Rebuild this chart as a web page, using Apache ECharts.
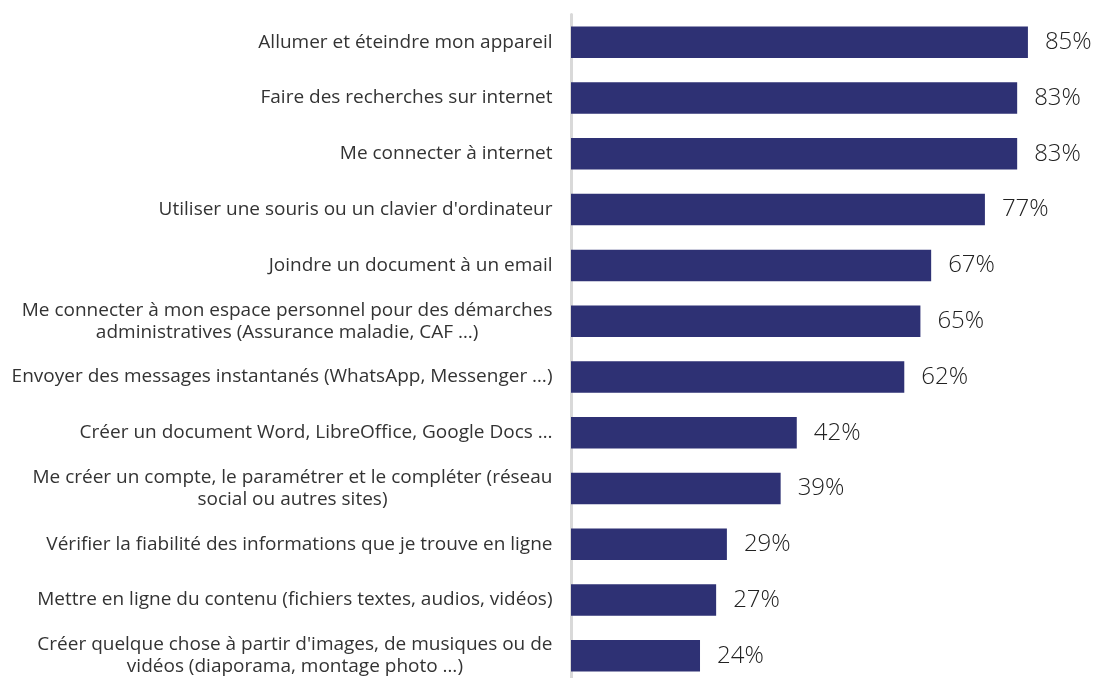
<!DOCTYPE html>
<html><head><meta charset="utf-8">
<script src="https://cdn.jsdelivr.net/npm/echarts@6/dist/echarts.min.js"></script>
<style>html,body{margin:0;padding:0;background:#fff}#c{width:1094px;height:678px}</style>
</head><body><div id="c"></div>
<script>
const categories = [
  "Allumer et éteindre mon appareil",
  "Faire des recherches sur internet",
  "Me connecter à internet",
  "Utiliser une souris ou un clavier d'ordinateur",
  "Joindre un document à un email",
  "Me connecter à mon espace personnel pour des démarches\nadministratives (Assurance maladie, CAF …)",
  "Envoyer des messages instantanés (WhatsApp, Messenger …)",
  "Créer un document Word, LibreOffice, Google Docs …",
  "Me créer un compte, le paramétrer et le compléter (réseau\nsocial ou autres sites)",
  "Vérifier la fiabilité des informations que je trouve en ligne",
  "Mettre en ligne du contenu (fichiers textes, audios, vidéos)",
  "Créer quelque chose à partir d'images, de musiques ou de\nvidéos (diaporama, montage photo …)"
];
const values = [85, 83, 83, 77, 67, 65, 62, 42, 39, 29, 27, 24];

const chart = echarts.init(document.getElementById('c'), null, {renderer: 'canvas'});
chart.setOption({
  animation: false,
  grid: {left: 571, width: 483.8, top: 14.4, height: 669.3, containLabel: false, outerBoundsMode: 'none'},
  xAxis: {type: 'value', min: 0, max: 90, show: false},
  yAxis: {
    type: 'category', data: categories, inverse: true, offset: 1.5,
    axisLine: {show: true, lineStyle: {color: '#d9d9d9', width: 3}},
    axisTick: {show: false},
    axisLabel: {
      margin: 17,
      formatter: v => '{c|' + v + '}',
      rich: {c: {align: 'center', fontFamily: 'Open Sans', fontSize: 19, color: '#333', lineHeight: 22}}
    }
  },
  series: [{
    type: 'bar', data: values, barWidth: '56.5%',
    itemStyle: {color: '#2e3174'},
    label: {show: true, position: 'right', distance: 17, formatter: '{c}%',
      fontFamily: 'Open Sans', fontSize: 24, fontWeight: 300, color: '#222'}
  }]
});
</script></body></html>
